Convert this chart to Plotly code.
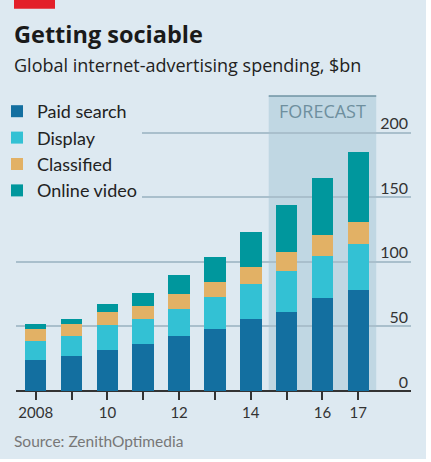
import plotly.graph_objects as go

years = [2008, 2009, 2010, 2011, 2012, 2013, 2014, 2015, 2016, 2017]
paid_search = [24.0, 27.1, 31.7, 36.4, 42.6, 48.0, 55.7, 61.2, 72.0, 78.2]
display = [14.7, 15.5, 19.4, 19.3, 20.9, 24.8, 27.4, 31.7, 32.5, 35.6]
classified = [9.3, 9.3, 9.8, 10.1, 11.4, 11.4, 12.9, 15.1, 16.3, 17.0]
online_video = [3.9, 4.1, 6.2, 10.1, 14.9, 19.5, 26.8, 35.8, 43.8, 54.0]
tick_labels = ["2008", "", "10", "", "12", "", "14", "", "16", "17"]
y_ticks = [0, 50, 100, 150, 200]
forecast_years = [2015, 2017]

W, H = 426, 459
L, R, T, B = 16, 15, 96, 68
PW, PH = W - L - R, H - T - B
BG = "#dde9f1"
FONT = "Lato"
HFONT = "Open Sans"


def px_x(x):
    return (x - L) / PW


def px_y(y):
    return (H - B - y) / PH


series = [
    ("Paid search", paid_search, "#136fa0"),
    ("Display", display, "#33c1d4"),
    ("Classified", classified, "#e2b165"),
    ("Online video", online_video, "#00979d"),
]

fig = go.Figure()
for name, vals, col in series:
    fig.add_trace(go.Bar(x=years, y=vals, name=name, marker_color=col,
                         marker_line_width=0, width=0.6))

fig.update_layout(
    width=W, height=H,
    margin=dict(l=L, r=R, t=T, b=B, pad=0, autoexpand=False),
    paper_bgcolor=BG, plot_bgcolor=BG,
    barmode="stack",
    bargap=0.4,
    font=dict(family=FONT, color="#222"),
    showlegend=True,
    legend=dict(x=px_x(-3), y=px_y(93), xanchor="left", yanchor="top",
                bgcolor=BG, font=dict(size=18, color="#222"),
                traceorder="normal", itemwidth=30),
    xaxis=dict(range=[2007.45, 2018.47], tickvals=years, ticktext=tick_labels,
               ticks="outside", ticklen=8, tickwidth=1.5, tickcolor="#333",
               showgrid=False, showline=False, zeroline=False, automargin=False,
               tickfont=dict(size=15, color="#333"), fixedrange=True),
    yaxis=dict(range=[0, 228.4], side="right", tickvals=y_ticks,
               ticklabelposition="inside", ticklabelshift=-9, ticklabelstandoff=0,
               showgrid=True, gridcolor="#a9bfcc", gridwidth=1.5,
               zeroline=True, zerolinecolor="#333", zerolinewidth=1.5,
               showline=False, ticks="", automargin=False,
               tickfont=dict(size=16, color="#333"), fixedrange=True),
)

# forecast shading
fig.add_shape(type="rect", xref="x", yref="paper",
              x0=forecast_years[0] - 0.5, x1=forecast_years[1] + 0.5, y0=0, y1=1,
              fillcolor="#c0d7e3", line_width=0, layer="below")
fig.add_shape(type="line", xref="x", yref="paper",
              x0=forecast_years[0] - 0.5, x1=forecast_years[1] + 0.5, y0=1, y1=1,
              line=dict(color="#6f93a3", width=1.5), layer="above")
fig.add_annotation(text="FORECAST", xref="x", yref="paper",
                   x=(forecast_years[0] + forecast_years[1]) / 2, y=px_y(111.5),
                   xanchor="center", yanchor="middle", showarrow=False,
                   font=dict(family=HFONT, size=18, color="#6e8f9e"))

# red tag
fig.add_shape(type="rect", xref="paper", yref="paper",
              x0=px_x(14), x1=px_x(55), y0=px_y(8.7), y1=px_y(-2),
              fillcolor="#e3202a", line_width=0)

fig.add_annotation(text="<b>Getting sociable</b>", xref="paper", yref="paper",
                   x=px_x(12), y=px_y(34), xanchor="left", yanchor="middle",
                   showarrow=False, font=dict(family=HFONT, size=23.5, color="#1a1a1a"))
fig.add_annotation(text="Global internet-advertising spending, $bn", xref="paper", yref="paper",
                   x=px_x(12), y=px_y(65.5), xanchor="left", yanchor="middle",
                   showarrow=False, font=dict(family=HFONT, size=18, color="#222"))
fig.add_annotation(text="Source: ZenithOptimedia", xref="paper", yref="paper",
                   x=px_x(12), y=px_y(441), xanchor="left", yanchor="middle",
                   showarrow=False, font=dict(size=15.5, color="#777"))

fig.write_html("out.html", config={"displayModeBar": False},
               post_script="document.body.style.margin='0';")
